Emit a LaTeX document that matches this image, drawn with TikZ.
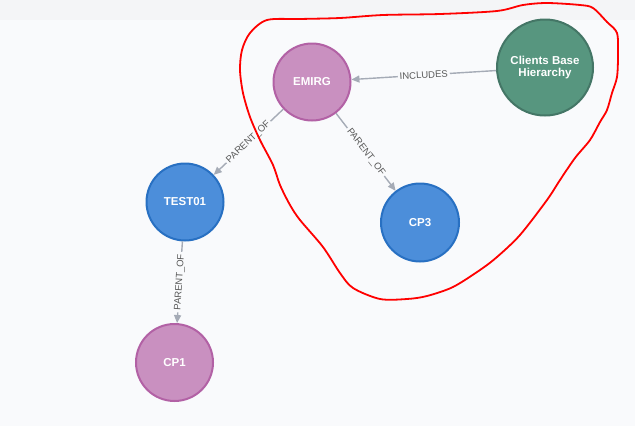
\documentclass[tikz,border=0pt]{standalone}
\usepackage{fontspec}
\setmainfont{Liberation Sans}
\usetikzlibrary{arrows.meta}
\definecolor{bg}{HTML}{F9FAFC}
\definecolor{band}{HTML}{F4F5F7}
\definecolor{pinkfill}{HTML}{C990C0}
\definecolor{pinkline}{HTML}{B261A5}
\definecolor{bluefill}{HTML}{4C8EDA}
\definecolor{blueline}{HTML}{2870C2}
\definecolor{greenfill}{HTML}{57967F}
\definecolor{greenline}{HTML}{447666}
\definecolor{edgec}{HTML}{A5ABB6}
\definecolor{labelc}{HTML}{595959}
\definecolor{scribble}{HTML}{FF0000}
\tikzset{
  basenode/.style={circle, line width=2pt, text=white, inner sep=0pt,
    font=\bfseries\fontsize{11.5}{12.5}\selectfont, align=center},
  pnode/.style={basenode, fill=pinkfill, draw=pinkline, minimum size=77pt},
  bnode/.style={basenode, fill=bluefill, draw=blueline, minimum size=77pt},
  gnode/.style={basenode, fill=greenfill, draw=greenline, minimum size=96pt},
  rel/.style={draw=edgec, line width=1.4pt, -{Triangle[length=8pt,width=7pt]}},
  lbl/.style={fill=bg, text=labelc, font=\fontsize{9.5}{10.5}\selectfont, inner sep=2pt, sloped, midway}
}
\begin{document}
\begin{tikzpicture}[x=1pt,y=-1pt]
\fill[bg] (0,0) rectangle (635,426);
\fill[band] (0,0) rectangle (635,20);
\useasboundingbox (0,0) rectangle (635,426);

\node[pnode] (emirg) at (312,82) {EMIRG};
\node[gnode] (clients) at (545,67.5) {Clients Base\\Hierarchy};
\node[bnode] (test01) at (185,202) {TEST01};
\node[bnode, minimum size=78pt] (cp3) at (420,222.5) {CP3};
\node[pnode] (cp1) at (174.5,362.5) {CP1};

\draw[rel] (clients) -- node[lbl] {INCLUDES} (emirg);
\draw[rel] (emirg) -- node[lbl] {PARENT\_OF} (test01);
\draw[rel] (emirg) -- node[lbl] {PARENT\_OF} (cp3);
\draw[rel] (test01) -- node[lbl] {PARENT\_OF} (cp1);

\draw[scribble, line width=1.8pt, line join=round]
  plot[smooth cycle, tension=0.5] coordinates {
  (267,20) (300,19) (340,18) (383,15) (440,14) (497,11) (523,5) (547,3)
  (580,5) (593,8) (607,22) (617,33) (618,55) (617,77) (612,93) (607,110)
  (600,122) (590,140) (575,158) (560,180) (547,200) (520,235) (497,257)
  (480,270) (453,287) (427,296) (407,299) (380,299) (353,288) (340,273)
  (323,247) (300,220) (290,205) (280,185) (273,165) (260,140) (250,117)
  (243,93) (240,70) (242,50) (250,33)};
\end{tikzpicture}
\end{document}
